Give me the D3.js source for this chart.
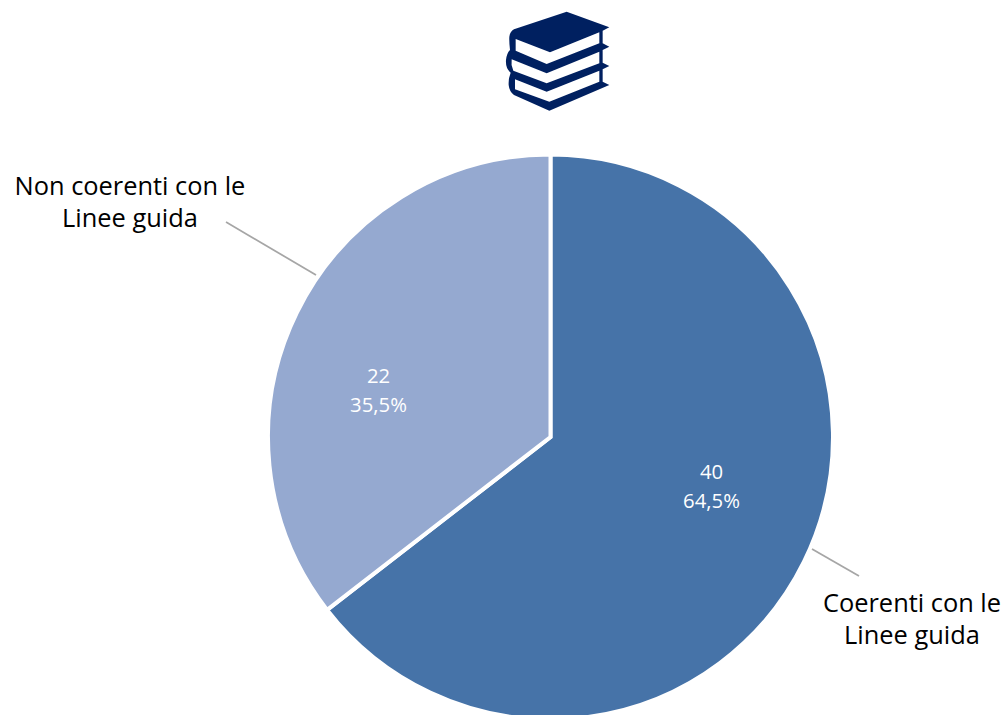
<!DOCTYPE html>
<html><head><meta charset="utf-8">
<script src="https://cdn.jsdelivr.net/npm/d3@7/dist/d3.min.js"></script>
<style>html,body{margin:0;padding:0;background:#fff}svg{display:block}text{font-family:"Open Sans",sans-serif}</style>
</head><body><div id="c"></div>
<script>
const categories = [["Coerenti con le","Linee guida"],["Non coerenti con le","Linee guida"]];
const values = [40,22];
const percents = ["64,5%","35,5%"];
const colors = ["#4673a8","#95a9d0"];
const W=1004,H=715,cx=550.5,cy=437,R=282.5;
const svg=d3.select("#c").append("svg").attr("width",W).attr("height",H);
const g=svg.append("g").attr("transform",`translate(${cx},${cy})`);
const pie=d3.pie().sort(null).value(d=>d)(values);
const arc=d3.arc().innerRadius(0).outerRadius(R);
g.selectAll("path").data(pie).join("path").attr("d",arc).attr("fill",(d,i)=>colors[i])
 .attr("stroke","#fff").attr("stroke-width",4).attr("stroke-linejoin","miter");
const inner=[[161,35],[-172,-61]];
const lab=g.selectAll("g.l").data(pie).join("g").attr("class","l");
lab.append("text").attr("text-anchor","middle").attr("fill","#fff").attr("font-size",20.3)
  .attr("x",(d,i)=>inner[i][0]).attr("y",(d,i)=>inner[i][1]+7).text(d=>d.value);
lab.append("text").attr("text-anchor","middle").attr("fill","#fff").attr("font-size",20.3)
  .attr("x",(d,i)=>inner[i][0]).attr("y",(d,i)=>inner[i][1]+36).text((d,i)=>percents[i]);
// leaders
const leaders=[[[812,549],[859,576]],[[316,275],[226,222]]];
svg.selectAll("line.ld").data(leaders).join("line").attr("class","ld")
  .attr("x1",d=>d[0][0]).attr("y1",d=>d[0][1]).attr("x2",d=>d[1][0]).attr("y2",d=>d[1][1])
  .attr("stroke","#a6a6a6").attr("stroke-width",1.75);
const outer=[[912,612],[130,195]];
categories.forEach((lines,i)=>lines.forEach((t,j)=>{
  svg.append("text").attr("text-anchor","middle").attr("fill","#000").attr("font-size",25.4)
    .attr("x",outer[i][0]).attr("y",outer[i][1]+j*31.5).text(t);
}));
// icon (books), zoomed-crop coordinates
const ic=svg.append("g").attr("transform","translate(490,0) scale(0.3333)");
ic.append("path").attr("fill","#002060").attr("d","M230,35 L358,82 L338,92 L338,130 L358,140 L338,150 L338,188 L358,198 L338,208 L338,245 L358,255 L178,332 L72,285 Q58,275 56,255 Q55,235 62,218 Q46,205 48,180 Q50,160 60,150 Q57,125 58,110 Q60,95 72,88 Z");
const white=["M77,117 L180,157 L328,97 L328,130 L170,192 L77,152 Z","M65,178 L170,220 L328,155 L328,190 L170,250 L70,212 Q62,195 65,178 Z","M75,238 L170,275 L328,212 L328,245 L178,305 L75,268 Z"];
ic.selectAll("path.w").data(white).join("path").attr("class","w").attr("fill","#fff").attr("d",d=>d);
</script></body></html>
